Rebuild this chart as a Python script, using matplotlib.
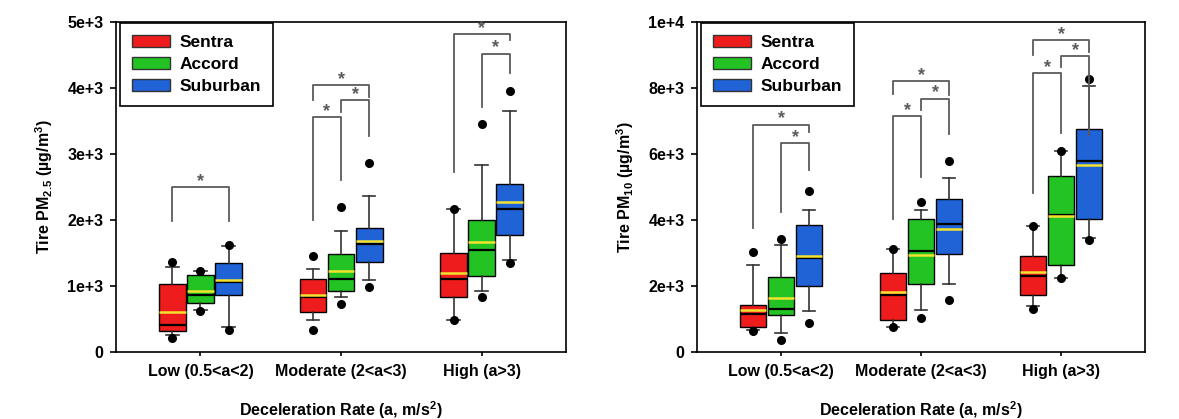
import numpy as np
import matplotlib
matplotlib.use("Agg")
import matplotlib.pyplot as plt
from matplotlib.patches import Patch

plt.rcParams['font.family'] = ['Liberation Sans', 'DejaVu Sans']
plt.rcParams['font.weight'] = 'bold'
plt.rcParams['axes.labelweight'] = 'bold'
plt.rcParams['mathtext.fontset'] = 'custom'
plt.rcParams['mathtext.bf'] = 'Liberation Sans:bold'
plt.rcParams['mathtext.rm'] = 'Liberation Sans:bold'
plt.rcParams['mathtext.default'] = 'bf'

groups = ["Low (0.5<a<2)", "Moderate (2<a<3)", "High (a>3)"]
cars = ["Sentra", "Accord", "Suburban"]
colors = ['#ee1c1c', '#22c322', '#1f63d6']

# rows = car (Sentra, Accord, Suburban), cols = deceleration group
pm25_q1 = [[313, 610, 830], [740, 920, 1150], [870, 1360, 1770]]
pm25_med = [[410, 840, 1110], [870, 1100, 1550], [1060, 1640, 2160]]
pm25_q3 = [[1025, 1100, 1500], [1160, 1480, 2000], [1350, 1880, 2540]]
pm25_mean = [[600, 860, 1200], [920, 1220, 1660], [1090, 1680, 2270]]
pm25_whislo = [[250, 490, 480], [630, 830, 930], [380, 1090, 1400]]
pm25_whishi = [[1280, 1250, 2160], [1230, 1830, 2830], [1610, 2360, 3650]]
pm25_outlo = [[210, 340, 480], [620, 720, 830], [330, 990, 1350]]
pm25_outhi = [[1360, 1460, 2160], [1220, 2200, 3450], [1620, 2860, 3950]]

pm10_q1 = [[760, 960, 1720], [1130, 2050, 2630], [2000, 2980, 4040]]
pm10_med = [[1160, 1720, 2290], [1310, 3060, 4160], [2850, 3890, 5780]]
pm10_q3 = [[1410, 2390, 2900], [2270, 4040, 5330], [3840, 4620, 6760]]
pm10_mean = [[1280, 1820, 2420], [1650, 2950, 4110], [2900, 3740, 5660]]
pm10_whislo = [[680, 760, 1380], [560, 1280, 2240], [1230, 2070, 3460]]
pm10_whishi = [[2650, 3130, 3810], [3250, 4310, 6090], [4290, 5270, 8050]]
pm10_outlo = [[630, 760, 1310], [370, 1030, 2240], [880, 1570, 3400]]
pm10_outhi = [[3030, 3130, 3810], [3430, 4540, 6090], [4870, 5790, 8280]]

# significance brackets: (group, car a, car b, top, leg a bottom, leg b bottom)
pm25_sig = [(0, 0, 2, 2500, 1980, 1980),
            (1, 0, 1, 3560, 2000, 2600),
            (1, 1, 2, 3820, 3640, 3270),
            (1, 0, 2, 4040, 3810, 3860),
            (2, 0, 2, 4810, 2730, 4730),
            (2, 1, 2, 4520, 3710, 4230)]
pm10_sig = [(0, 0, 2, 6890, 3760, 6670),
            (0, 1, 2, 6330, 4240, 5500),
            (1, 0, 1, 7150, 4040, 5300),
            (1, 1, 2, 7680, 7320, 6590),
            (1, 0, 2, 8200, 7830, 7800),
            (2, 0, 1, 8450, 4820, 6620),
            (2, 1, 2, 8960, 8640, 6570),
            (2, 0, 2, 9440, 8990, 9100)]

pm25_ticks = [0, 1000, 2000, 3000, 4000, 5000]
pm25_ticklabels = ["0", "1e+3", "2e+3", "3e+3", "4e+3", "5e+3"]
pm10_ticks = [0, 2000, 4000, 6000, 8000, 10000]
pm10_ticklabels = ["0", "2e+3", "4e+3", "6e+3", "8e+3", "1e+4"]

base = np.arange(1, 4)
offs = [-0.2, 0.0, 0.2]


def panel(ax, q1, med, q3, mean, lo, hi, olo, ohi, sig, ticks, ticklabels, ylabel):
    for c in range(3):
        stats = []
        for g in range(3):
            stats.append(dict(med=med[c][g], q1=q1[c][g], q3=q3[c][g], mean=mean[c][g],
                              whislo=lo[c][g], whishi=hi[c][g],
                              fliers=[olo[c][g], ohi[c][g]]))
        ax.bxp(stats, positions=base + offs[c], widths=0.19, capwidths=0.09,
               patch_artist=True, showmeans=True, meanline=True,
               boxprops=dict(facecolor=colors[c], edgecolor='black', linewidth=1.0),
               medianprops=dict(color='black', linewidth=1.6),
               meanprops=dict(color='#f3e330', linestyle='-', linewidth=1.8),
               whiskerprops=dict(color='#333333', linewidth=1.2),
               capprops=dict(color='#333333', linewidth=1.2),
               flierprops=dict(marker='o', markerfacecolor='black', markeredgecolor='black',
                               markersize=5.5))
    for g, a, b, top, la, lb in sig:
        xa = base[g] + offs[a]
        xb = base[g] + offs[b]
        ax.plot([xa, xa, xb, xb], [la, top, top, lb], color='#5a5a5a', lw=1.3)
        ax.annotate('*', ((xa + xb) / 2, top), xytext=(0, -2), textcoords='offset points',
                    ha='center', va='bottom', fontsize=13, color='#5a5a5a')
    ax.set_xlim(0.4, 3.6)
    ax.set_ylim(ticks[0], ticks[-1])
    ax.set_yticks(ticks)
    ax.set_yticklabels(ticklabels)
    ax.set_xticks(base)
    ax.set_xticklabels(groups)
    ax.tick_params(axis='y', length=4, width=1.2, pad=5, labelsize=11.5)
    ax.tick_params(axis='x', length=3, width=1.2, pad=6, labelsize=11.5)
    for s in ax.spines.values():
        s.set_linewidth(1.2)
    ax.set_xlabel("Deceleration Rate (a, m/s$^2$)", fontsize=11.5, labelpad=14)
    ax.set_ylabel(ylabel, fontsize=11.5, labelpad=9)
    handles = [Patch(facecolor=colors[i], edgecolor='#333333', label=cars[i]) for i in range(3)]
    leg = ax.legend(handles=handles, loc='upper left', bbox_to_anchor=(0.009, 0.997),
                    borderaxespad=0, fancybox=False, edgecolor='black', framealpha=1,
                    prop=dict(weight='bold', size=12.5), handlelength=2.2, handleheight=0.65,
                    handletextpad=0.5, labelspacing=0.4, borderpad=0.7)
    leg.get_frame().set_linewidth(1.2)


fig = plt.figure(figsize=(11.79, 4.19), dpi=100)
ax1 = fig.add_axes([0.0984, 0.160, 0.3817, 0.7876])
ax2 = fig.add_axes([0.5912, 0.160, 0.3800, 0.7876])

panel(ax1, pm25_q1, pm25_med, pm25_q3, pm25_mean, pm25_whislo, pm25_whishi,
      pm25_outlo, pm25_outhi, pm25_sig, pm25_ticks, pm25_ticklabels,
      "Tire PM$_{2.5}$ (\u00b5g/m$^3$)")
panel(ax2, pm10_q1, pm10_med, pm10_q3, pm10_mean, pm10_whislo, pm10_whishi,
      pm10_outlo, pm10_outhi, pm10_sig, pm10_ticks, pm10_ticklabels,
      "Tire PM$_{10}$ (\u00b5g/m$^3$)")

fig.savefig('out.png', dpi=100)
